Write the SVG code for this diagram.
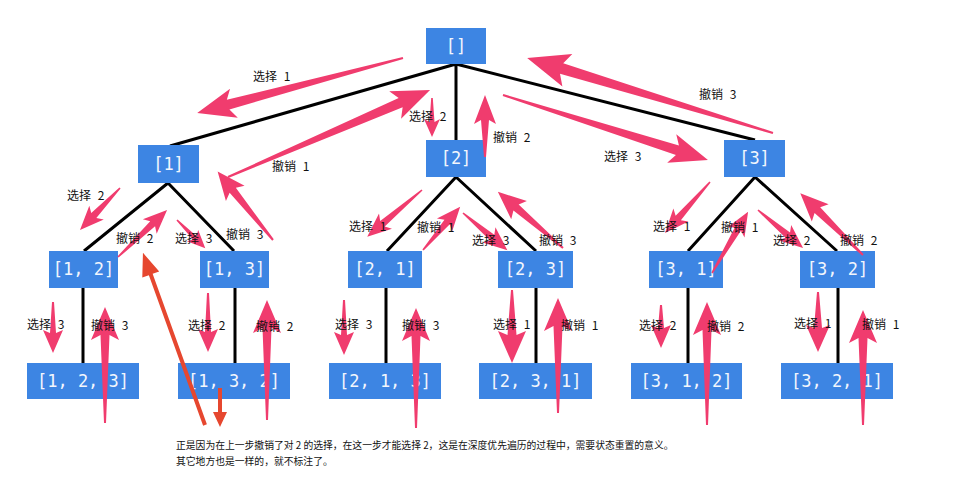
<svg xmlns="http://www.w3.org/2000/svg" width="958" height="489" viewBox="0 0 958 489">
<style>
.bg{fill:#ffffff}
.node rect{fill:#3d85e3}
.node text{font-family:"DejaVu Sans Mono","Liberation Mono",monospace;font-size:17px;fill:#f2f6fd;text-anchor:middle}
.edge{stroke:#000;stroke-width:3;fill:none}
.arr{fill:#f03c6e}
.red{fill:#e6472f}
.lbl{font-family:"Noto Sans CJK SC","Noto Sans",sans-serif;font-size:12px;fill:#111;word-spacing:4px}
.note{font-family:"Noto Sans CJK SC","Noto Sans",sans-serif;font-size:9.8px;fill:#111}
</style>
<rect class="bg" x="0" y="0" width="958" height="489"/>
<g id="connectors">
<path class="edge" d="M456,64 L170,146 M456,64 L456,140 M456,64 L755,140"/>
<path class="edge" d="M168,183 L84,251 M168,183 L234,251"/>
<path class="edge" d="M456,177 L387,251 M456,177 L536,251"/>
<path class="edge" d="M755,177 L688,251 M755,177 L837,251"/>
<path class="edge" d="M83,288 L83,363 M235,288 L235,363 M386,288 L386,363 M536,288 L536,363 M688,288 L688,363 M838,288 L838,363"/>
</g>
<g id="n_root" class="node"><rect x="426" y="28" width="60" height="36"/><text x="456" y="52">[]</text></g>
<g id="n_1" class="node"><rect x="138" y="145" width="61" height="38"/><text x="168.5" y="170">[1]</text></g>
<g id="n_2" class="node"><rect x="426" y="140" width="60" height="37"/><text x="456" y="164">[2]</text></g>
<g id="n_3" class="node"><rect x="724" y="140" width="61" height="37"/><text x="754.5" y="164">[3]</text></g>
<g id="n_12" class="node"><rect x="49" y="251" width="69" height="37"/><text x="83.5" y="275">[1, 2]</text></g>
<g id="n_13" class="node"><rect x="200" y="251" width="69" height="37"/><text x="234.5" y="275">[1, 3]</text></g>
<g id="n_21" class="node"><rect x="348" y="251" width="74" height="37"/><text x="385" y="275">[2, 1]</text></g>
<g id="n_23" class="node"><rect x="498" y="251" width="75" height="37"/><text x="535.5" y="275">[2, 3]</text></g>
<g id="n_31" class="node"><rect x="649" y="251" width="74" height="37"/><text x="686" y="275">[3, 1]</text></g>
<g id="n_32" class="node"><rect x="800" y="251" width="75" height="37"/><text x="837.5" y="275">[3, 2]</text></g>
<g id="n_123" class="node"><rect x="27" y="363" width="112" height="36"/><text x="83" y="387">[1, 2, 3]</text></g>
<g id="n_132" class="node"><rect x="178" y="363" width="112" height="36"/><text x="234" y="387">[1, 3, 2]</text></g>
<g id="n_213" class="node"><rect x="329" y="363" width="112" height="36"/><text x="385" y="387">[2, 1, 3]</text></g>
<g id="n_231" class="node"><rect x="479" y="363" width="113" height="36"/><text x="535.5" y="387">[2, 3, 1]</text></g>
<g id="n_312" class="node"><rect x="631" y="363" width="111" height="36"/><text x="686.5" y="387">[3, 1, 2]</text></g>
<g id="n_321" class="node"><rect x="781" y="363" width="112" height="36"/><text x="837" y="387">[3, 2, 1]</text></g>
<g id="annotations">
<polygon class="arr" transform="translate(403,58) rotate(165.05)" points="0,-1 181,-5 175,-15 213,0 175,15 181,5 0,1"/>
<polygon class="arr" transform="translate(228,177) rotate(-23.3)" points="0,-1 188,-5 182,-15 220,0 182,15 188,5 0,1"/>
<polygon class="arr" transform="translate(432,98) rotate(90)" points="0,-0.8 24,-2.5 21,-8 39,0 21,8 24,2.5 0,0.8"/>
<polygon class="arr" transform="translate(485,157) rotate(-90)" points="0,-1 37,-4 33,-11 62,0 33,11 37,4 0,1"/>
<polygon class="arr" transform="translate(773,133) rotate(-163.04)" points="0,-1 221,-5.5 215,-17 257,0 215,17 221,5.5 0,1"/>
<polygon class="arr" transform="translate(503,95) rotate(17.6)" points="0,-1 183,-5 177,-15 215,0 177,15 183,5 0,1"/>
<polygon class="arr" transform="translate(120,188) rotate(133.6)" points="0,-0.8 38,-3.5 34,-10 58,0 34,10 38,3.5 0,0.8"/>
<polygon class="arr" transform="translate(118,257) rotate(-43.8)" points="0,-0.8 48,-3.5 44,-10 68,0 44,10 48,3.5 0,0.8"/>
<polygon class="arr" transform="translate(177,220) rotate(45)" points="0,-0.8 25,-2.5 22,-8 40,0 22,8 25,2.5 0,0.8"/>
<polygon class="arr" transform="translate(273,240) rotate(-129)" points="0,-1 64,-4 60,-12 88,0 60,12 64,4 0,1"/>
<polygon class="arr" transform="translate(422,190) rotate(139.5)" points="0,-0.8 52,-3.5 48,-10 72,0 48,10 52,3.5 0,0.8"/>
<polygon class="arr" transform="translate(423,250) rotate(-49.3)" points="0,-0.8 37,-3.5 33,-10 57,0 33,10 37,3.5 0,0.8"/>
<polygon class="arr" transform="translate(463,213) rotate(40.1)" points="0,-0.8 38,-3.5 34,-10 58,0 34,10 38,3.5 0,0.8"/>
<polygon class="arr" transform="translate(563,248) rotate(-139.25)" points="0,-1 62,-4 58,-12 86,0 58,12 62,4 0,1"/>
<polygon class="arr" transform="translate(710,182) rotate(131.4)" points="0,-0.8 48,-3.5 44,-10 68,0 44,10 48,3.5 0,0.8"/>
<polygon class="arr" transform="translate(712,273) rotate(-59.45)" points="0,-0.8 51,-3.5 47,-10 71,0 47,10 51,3.5 0,0.8"/>
<polygon class="arr" transform="translate(758,210) rotate(40.2)" points="0,-0.8 39,-3.5 35,-10 59,0 35,10 39,3.5 0,0.8"/>
<polygon class="arr" transform="translate(863,255) rotate(-135.46)" points="0,-1 64,-4 60,-12 88,0 60,12 64,4 0,1"/>
<polygon class="arr" transform="translate(53,302) rotate(90)" points="0,-1 31,-3 28,-10 51,0 28,10 31,3 0,1"/>
<polygon class="arr" transform="translate(105,423) rotate(-90)" points="0,-1 88,-4.5 83,-14 116,0 83,14 88,4.5 0,1"/>
<polygon class="arr" transform="translate(208,293) rotate(90)" points="0,-1 39,-3 36,-10 59,0 36,10 39,3 0,1"/>
<polygon class="arr" transform="translate(267,420) rotate(-90)" points="0,-1 92,-4.5 87,-14 120,0 87,14 92,4.5 0,1"/>
<polygon class="arr" transform="translate(344,300) rotate(90)" points="0,-1 35,-3 32,-10 55,0 32,10 35,3 0,1"/>
<polygon class="arr" transform="translate(416,428) rotate(-90)" points="0,-1 92,-4.5 87,-14 120,0 87,14 92,4.5 0,1"/>
<polygon class="arr" transform="translate(512,290) rotate(90)" points="0,-1 45,-4.5 41,-14 73,0 41,14 45,4.5 0,1"/>
<polygon class="arr" transform="translate(558,413) rotate(-90)" points="0,-1 87,-4.5 82,-14 115,0 82,14 87,4.5 0,1"/>
<polygon class="arr" transform="translate(661,305) rotate(90)" points="0,-1 23,-3 20,-10 43,0 20,10 23,3 0,1"/>
<polygon class="arr" transform="translate(707,425) rotate(-90)" points="0,-1 95,-4.5 90,-14 123,0 90,14 95,4.5 0,1"/>
<polygon class="arr" transform="translate(818,292) rotate(90)" points="0,-1 36,-4 33,-12 60,0 33,12 36,4 0,1"/>
<polygon class="arr" transform="translate(863,425) rotate(-90)" points="0,-1 87,-4.5 82,-14 115,0 82,14 87,4.5 0,1"/>
<polygon class="red" transform="translate(205,425) rotate(-109.82)" points="0,-2 160,-2 160,-9 183,0 160,9 160,2 0,2"/>
<polygon class="red" transform="translate(220,388) rotate(90)" points="0,-2 24,-2 24,-7 39,0 24,7 24,2 0,2"/>
</g>
<g id="labels">
<text class="lbl" x="253" y="81">选择 1</text>
<text class="lbl" x="409" y="121">选择 2</text>
<text class="lbl" x="272" y="171">撤销 1</text>
<text class="lbl" x="493" y="142">撤销 2</text>
<text class="lbl" x="699" y="99">撤销 3</text>
<text class="lbl" x="604" y="161">选择 3</text>
<text class="lbl" x="67" y="200">选择 2</text>
<text class="lbl" x="116" y="243">撤销 2</text>
<text class="lbl" x="175" y="243">选择 3</text>
<text class="lbl" x="226" y="239">撤销 3</text>
<text class="lbl" x="349" y="231">选择 1</text>
<text class="lbl" x="417" y="232">撤销 1</text>
<text class="lbl" x="472" y="245">选择 3</text>
<text class="lbl" x="539" y="245">撤销 3</text>
<text class="lbl" x="653" y="231">选择 1</text>
<text class="lbl" x="721" y="232">撤销 1</text>
<text class="lbl" x="773" y="245">选择 2</text>
<text class="lbl" x="840" y="245">撤销 2</text>
<text class="lbl" x="27" y="329">选择 3</text>
<text class="lbl" x="91" y="330">撤销 3</text>
<text class="lbl" x="188" y="330">选择 2</text>
<text class="lbl" x="256" y="331">撤销 2</text>
<text class="lbl" x="335" y="329">选择 3</text>
<text class="lbl" x="402" y="330">撤销 3</text>
<text class="lbl" x="493" y="329">选择 1</text>
<text class="lbl" x="561" y="330">撤销 1</text>
<text class="lbl" x="639" y="330">选择 2</text>
<text class="lbl" x="707" y="331">撤销 2</text>
<text class="lbl" x="794" y="328">选择 1</text>
<text class="lbl" x="862" y="329">撤销 1</text>
<text class="note" x="176" y="449">正是因为在上一步撤销了对 2 的选择，在这一步才能选择 2，这是在深度优先遍历的过程中，需要状态重置的意义。</text>
<text class="note" x="176" y="465">其它地方也是一样的，就不标注了。</text>
</g>
</svg>
